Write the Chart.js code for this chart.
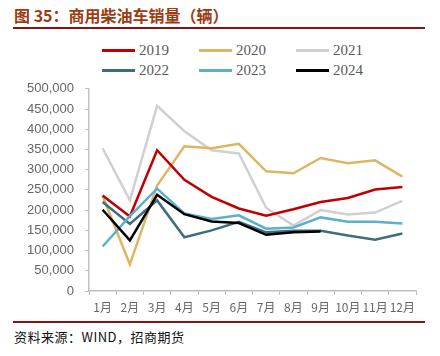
<!DOCTYPE html>
<html>
<head>
<meta charset="utf-8">
<script src="https://cdn.jsdelivr.net/npm/chart.js@4"></script>
<style>
  html, body { margin: 0; padding: 0; background: #fff; }
  body { width: 440px; height: 356px; position: relative; overflow: hidden; }
  #title { position: absolute; left: 14px; top: 5px; font-family: "Noto Sans CJK SC", sans-serif; font-weight: bold; font-size: 16px; color: #9C3B12; white-space: nowrap; line-height: 20px; }
  .rule { position: absolute; left: 13px; width: 412px; height: 2px; background: #8B1010; }
  #source { position: absolute; left: 14px; top: 328px; font-family: "Noto Sans CJK SC", sans-serif; font-size: 13px; color: #111; white-space: nowrap; line-height: 18px; letter-spacing: 0.5px; }
  #chartBox { position: absolute; left: 0; top: 70px; width: 440px; height: 250px; }
  .lg { position: absolute; font-family: "Liberation Serif", serif; font-size: 15px; color: #595959; white-space: nowrap; line-height: 16px; }
  .lg span.sw { display: inline-block; width: 33px; height: 3px; vertical-align: middle; margin-right: 4px; position: relative; top: -1px; }
</style>
</head>
<body>
<div id="title">图 35：商用柴油车销量（辆）</div>
<div class="rule" style="top:27px"></div>
<div id="legend"></div>
<div id="chartBox"><canvas id="c"></canvas></div>
<div class="rule" style="top:321px"></div>
<div id="source">资料来源：WIND，招商期货</div>
<script>
const months = ["1月","2月","3月","4月","5月","6月","7月","8月","9月","10月","11月","12月"];
const seriesNames = ["2019","2020","2021","2022","2023","2024"];
const s2019 = [236000,184000,348000,275000,233000,204000,186000,202000,220000,230000,251000,257000];
const s2020 = [235000,66000,261000,358000,353000,364000,296000,291000,329000,316000,323000,283000];
const s2021 = [353000,224000,458000,395000,348000,340000,206000,162000,200000,189000,194000,223000];
const s2022 = [220000,166000,224000,133000,150000,171000,145000,149000,149000,137000,127000,142000];
const s2023 = [110000,185000,253000,192000,178000,187000,154000,157000,182000,171000,171000,167000];
const s2024 = [201000,125000,238000,190000,172000,168000,139000,145000,147000];
const yTicksMin = 0, yTicksMax = 500000, yStep = 50000;

const colors = ["#C00000","#DDB663","#D0D0D0","#3E6D7C","#5DB0CC","#000000"];
const values = [s2019,s2020,s2021,s2022,s2023,s2024];

const legend = document.getElementById('legend');
const colX = [102, 199, 296];
const rowY = [42, 62];
seriesNames.forEach((n,i)=>{
  const d = document.createElement('div');
  d.className = 'lg';
  d.style.left = colX[i%3] + 'px';
  d.style.top = rowY[Math.floor(i/3)] + 'px';
  d.innerHTML = '<span class="sw" style="background:'+colors[i]+'"></span>' + n;
  legend.appendChild(d);
});

const datasets = seriesNames.map((n,i)=>({
  label: n,
  data: values[i],
  borderColor: colors[i],
  backgroundColor: colors[i],
  borderWidth: 2.5,
  pointRadius: 0,
  tension: 0,
  fill: false
}));
const order = [2,1,0,3,4,5];
order.forEach((idx,k)=>{ datasets[idx].order = 6-k; });

new Chart(document.getElementById('c'), {
  type: 'line',
  data: { labels: months, datasets },
  options: {
    responsive: true,
    maintainAspectRatio: false,
    animation: false,
    layout: { padding: { top: 15, right: 24, left: 0, bottom: 0 } },
    plugins: { legend: { display: false }, tooltip: { enabled: false } },
    scales: {
      x: {
        offset: true,
        grid: { display: true, drawOnChartArea: false, offset: true, tickLength: 4, color: '#BFBFBF' },
        border: { display: true, color: '#BFBFBF', width: 1.5 },
        ticks: { color: '#666666', padding: 5, maxRotation: 0, autoSkip: false, font: { family: '"Noto Sans CJK SC", sans-serif', size: 12 } },
        afterFit: (s) => { s.height = 29; }
      },
      y: {
        min: yTicksMin, max: yTicksMax,
        grid: { display: true, drawOnChartArea: false, tickLength: 4, color: '#BFBFBF' },
        border: { display: true, color: '#BFBFBF', width: 1.5 },
        ticks: { stepSize: yStep, color: '#666666', padding: 11, font: { family: '"Liberation Sans", Arial, sans-serif', size: 13 },
          callback: (v) => v.toLocaleString('en-US') },
        afterFit: (s) => { s.width = 89; }
      }
    }
  }
});
</script>
</body>
</html>
